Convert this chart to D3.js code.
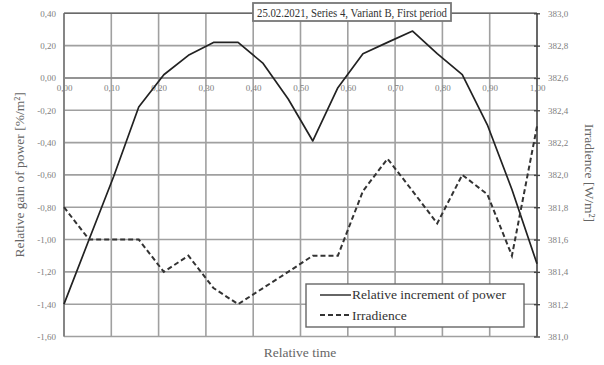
<!DOCTYPE html>
<html><head><meta charset="utf-8">
<script src="https://cdn.jsdelivr.net/npm/d3@7"></script>
<style>body{margin:0;background:#fff}svg{display:block}</style>
</head><body><svg id="c" width="604" height="365"></svg>
<script>
const times = [0,0.053,0.105,0.158,0.211,0.263,0.316,0.368,0.421,0.474,0.526,0.579,0.632,0.684,0.737,0.789,0.842,0.895,0.947,1.0];
const powerGain = [-1.40,-1.00,-0.61,-0.18,0.02,0.14,0.22,0.22,0.09,-0.13,-0.39,-0.06,0.15,0.22,0.29,0.15,0.02,-0.29,-0.69,-1.15];
const irradiance = [381.8,381.6,381.6,381.6,381.4,381.5,381.3,381.2,381.3,381.4,381.5,381.5,381.9,382.1,381.9,381.7,382.0,381.88,381.5,382.3];
const xTicks = [0,0.1,0.2,0.3,0.4,0.5,0.6,0.7,0.8,0.9,1.0];
const leftTicks = [0.4,0.2,0,-0.2,-0.4,-0.6,-0.8,-1.0,-1.2,-1.4,-1.6];
const rightTicks = [383.0,382.8,382.6,382.4,382.2,382.0,381.8,381.6,381.4,381.2,381.0];
const title = "25.02.2021, Series 4, Variant B, First period";
const seriesNames = ["Relative increment of power","Irradience"];

const FF = "Liberation Serif, DejaVu Serif, serif";
const svg = d3.select("#c").attr("font-family",FF);
const L=64, R=537, T=13.3, B=336.5;
const x = d3.scaleLinear().domain([0,1]).range([L,R]);
const yL = d3.scaleLinear().domain([-1.6,0.4]).range([B,T]);
const yR = d3.scaleLinear().domain([381,383]).range([B,T]);
const comma = f => v => f(v).replace(".",",").replace("−","-");
const fL = comma(d3.format(".2f")), fR = comma(d3.format(".1f"));

// grid
const g = svg.append("g");
g.selectAll(".h").data(leftTicks).join("line")
  .attr("x1",L).attr("x2",R).attr("y1",d=>yL(d)).attr("y2",d=>yL(d))
  .attr("stroke","#a0a0a0").attr("stroke-width",1.6);
g.selectAll(".v").data(xTicks).join("line")
  .attr("x1",d=>x(d)).attr("x2",d=>x(d)).attr("y1",T).attr("y2",B)
  .attr("stroke","#a0a0a0").attr("stroke-width",1.6);
svg.append("line").attr("x1",L).attr("x2",L).attr("y1",T).attr("y2",B).attr("stroke","#7a7a7a").attr("stroke-width",1.6);
svg.append("line").attr("x1",L).attr("x2",R).attr("y1",T).attr("y2",T).attr("stroke","#6a6a6a").attr("stroke-width",1.6);
svg.append("line").attr("x1",R).attr("x2",R).attr("y1",T).attr("y2",B).attr("stroke","#555").attr("stroke-width",1.6);
svg.append("line").attr("x1",L).attr("x2",R).attr("y1",yL(0)).attr("y2",yL(0)).attr("stroke","#888").attr("stroke-width",1.6);

// right axis
const rAx = d3.axisRight(yR).tickValues(rightTicks).tickSize(3).tickPadding(8).tickFormat(fR);
const ra = svg.append("g").attr("transform",`translate(${R},0)`).call(rAx).attr("font-family",FF);
ra.select(".domain").remove();
ra.selectAll(".tick line").attr("stroke","#444").attr("stroke-width",1.4).attr("x1",-3);
ra.selectAll("text").attr("fill","#808080").attr("font-size",9);

// left axis labels
const lAx = d3.axisLeft(yL).tickValues(leftTicks).tickSize(0).tickPadding(8).tickFormat(fL);
const la = svg.append("g").attr("transform",`translate(${L},0)`).call(lAx).attr("font-family",FF);
la.select(".domain").remove();
la.selectAll("text").attr("fill","#808080").attr("font-size",9);

// x axis labels on zero line
const xAx = d3.axisBottom(x).tickValues(xTicks).tickSize(0).tickPadding(7).tickFormat(fL);
const xa = svg.append("g").attr("transform",`translate(0,${yL(0)})`).call(xAx).attr("font-family",FF);
xa.select(".domain").remove();
xa.selectAll("text").attr("fill","#808080").attr("font-size",9);

// series
const lineP = d3.line().x((d,i)=>x(times[i])).y(d=>yL(d));
const lineI = d3.line().x((d,i)=>x(times[i])).y(d=>yR(d));
svg.append("path").datum(powerGain).attr("d",lineP).attr("fill","none").attr("stroke","#222").attr("stroke-width",1.7).attr("stroke-linejoin","round");
svg.append("path").datum(irradiance).attr("d",lineI).attr("fill","none").attr("stroke","#333").attr("stroke-width",2).attr("stroke-dasharray","5,3");

// title box
const tb = svg.append("g");
tb.append("rect").attr("x",253).attr("y",3).attr("width",198).attr("height",18).attr("fill","#fff").attr("stroke","#777").attr("stroke-width",1.8);
tb.append("text").attr("x",352).attr("y",16.5).attr("text-anchor","middle").attr("font-size",12)
  .attr("textLength",190).attr("lengthAdjust","spacingAndGlyphs").attr("fill","#333").text(title);

// legend
const lg = svg.append("g");
lg.append("rect").attr("x",306).attr("y",284).attr("width",218).attr("height",43).attr("fill","#fff").attr("stroke","#666").attr("stroke-width",1.4);
lg.append("line").attr("x1",320).attr("x2",351).attr("y1",295).attr("y2",295).attr("stroke","#333").attr("stroke-width",1.5);
lg.append("line").attr("x1",320).attr("x2",351).attr("y1",315).attr("y2",315).attr("stroke","#333").attr("stroke-width",2).attr("stroke-dasharray","5,3");
lg.append("text").attr("x",352).attr("y",299).attr("font-size",13.5).attr("fill","#333").text(seriesNames[0]);
lg.append("text").attr("x",352).attr("y",319.5).attr("font-size",13.5).attr("fill","#333").text(seriesNames[1]);

// axis titles
svg.append("text").attr("transform",`translate(24,${(T+B)/2}) rotate(-90)`).attr("text-anchor","middle").attr("font-size",13.5).attr("fill","#666").text("Relative gain of power [%/m²]");
svg.append("text").attr("transform",`translate(585,${(T+B)/2-2}) rotate(90)`).attr("text-anchor","middle").attr("font-size",13.5).attr("fill","#666").text("Irradience [W/m²]");
svg.append("text").attr("x",300).attr("y",357).attr("text-anchor","middle").attr("font-size",13.5).attr("fill","#666").text("Relative time");
</script></body></html>
